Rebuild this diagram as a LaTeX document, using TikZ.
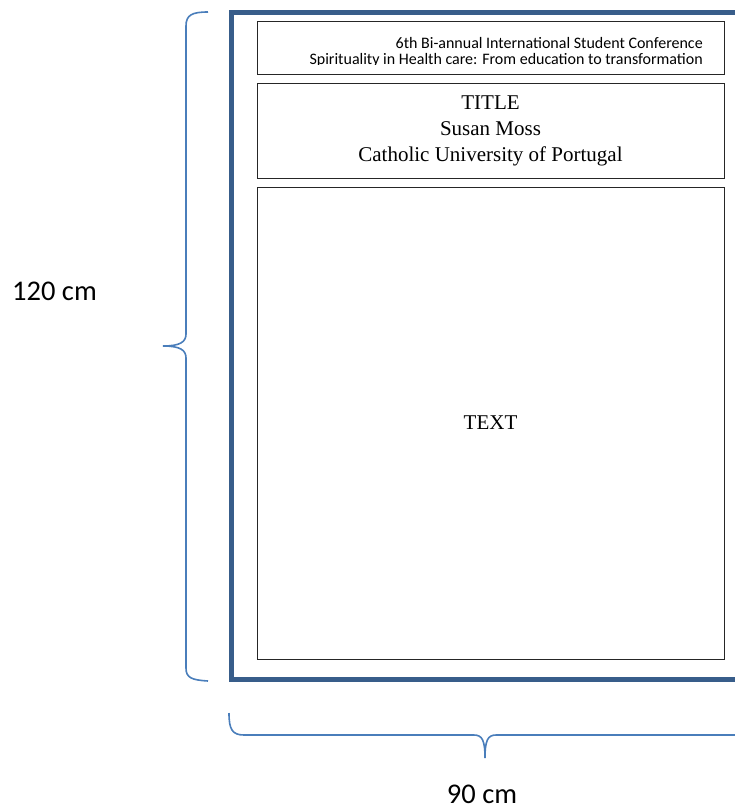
\documentclass[tikz,border=0pt]{standalone}
\usepackage{fontspec}
\setmainfont{Liberation Serif}
\newfontfamily\calibri{Carlito}
\usepackage{xcolor}
\usepackage{tikz}
\definecolor{framecol}{RGB}{56,93,138}
\definecolor{bracecol}{RGB}{74,126,187}

\begin{document}
\begin{tikzpicture}[
      x=1pt, y=-1pt,
      frame/.style={draw=framecol, line width=5pt},
      box/.style={draw=black!85, line width=1pt, inner sep=0pt, minimum width=467pt},
      brc/.style={draw=bracecol, line width=1.6pt},
      conftxt/.style={font=\calibri\fontsize{16}{16.6}\selectfont, align=right, inner sep=0pt},
      serif/.style={font=\fontsize{21}{26}\selectfont, align=center},
      lbl/.style={font=\calibri\fontsize{28.5}{34}\selectfont, inner sep=0pt}
    ]
    \useasboundingbox (0,0) rectangle (734,809);
    % poster outline
    \draw[frame] (760,12) -- (231,12) -- (231,679.5) -- (760,679.5);
    \node[box, minimum height=53pt]  (hdr) at (490.5,47.5) {};
    \node[box, minimum height=95pt]  (ttl) at (490.5,130.5) {};
    \node[box, minimum height=472pt] (txt) at (490.5,423) {};
    \begin{scope}
      \clip (257,21) rectangle (724,64.5);
      \node[conftxt, anchor=north east] (conf) at (703,37) {6th Bi-annual International Student Conference\\Spirituality in Health care: From education to transformation};
    \end{scope}
    \node[serif] (tname) at (ttl.center) {TITLE\\Susan Moss\\Catholic University of Portugal};
    \node[serif] (body) at (txt.center) {TEXT};
    % braces
    \draw[brc] (208,12) .. controls (192,12) and (186,15) .. (186,26) -- (186,334)
      .. controls (186,342) and (180,346) .. (163,346)
      .. controls (180,346) and (186,350) .. (186,358) -- (186,668)
      .. controls (186,678) and (192,680) .. (208,681);
    \draw[brc] (229,713) .. controls (229,729) and (232,735) .. (244,735) -- (474,735)
      .. controls (482,735) and (485,740) .. (485,758)
      .. controls (485,740) and (488,735) .. (496,735) -- (760,735);
    \node[lbl] (hgt) at (54.5,291) {120 cm};
    \node[lbl] (wdt) at (482,794) {90 cm};
  \end{tikzpicture}
\end{document}
